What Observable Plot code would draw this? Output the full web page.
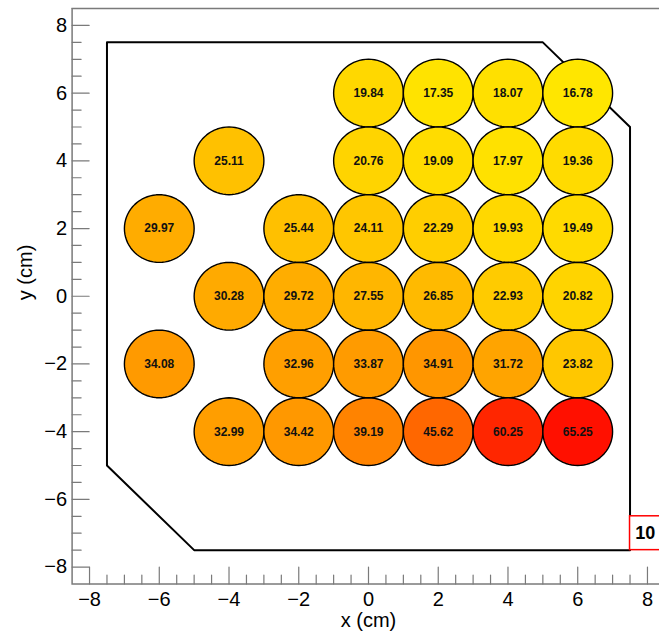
<!DOCTYPE html>
<html>
<head>
<meta charset="utf-8">
<script src="https://cdn.jsdelivr.net/npm/d3@7"></script>
<script src="https://cdn.jsdelivr.net/npm/@observablehq/plot@0.6"></script>
<style>
  html, body { margin: 0; padding: 0; background: #fff; overflow: hidden; }
  #chart svg { overflow: hidden; }
</style>
</head>
<body>
<div id="chart"></div>
<script>
// Cell centres (cm) and measured values
const cellX = [0, 2, 4, 6,
               -4, 0, 2, 4, 6,
               -6, -2, 0, 2, 4, 6,
               -4, -2, 0, 2, 4, 6,
               -6, -2, 0, 2, 4, 6,
               -4, -2, 0, 2, 4, 6];
const cellY = [6, 6, 6, 6,
               4, 4, 4, 4, 4,
               2, 2, 2, 2, 2, 2,
               0, 0, 0, 0, 0, 0,
               -2, -2, -2, -2, -2, -2,
               -4, -4, -4, -4, -4, -4];
const cellValue = [19.84, 17.35, 18.07, 16.78,
                   25.11, 20.76, 19.09, 17.97, 19.36,
                   29.97, 25.44, 24.11, 22.29, 19.93, 19.49,
                   30.28, 29.72, 27.55, 26.85, 22.93, 20.82,
                   34.08, 32.96, 33.87, 34.91, 31.72, 23.82,
                   32.99, 34.42, 39.19, 45.62, 60.25, 65.25];
const cellRadius = 1; // cm

// Detector outline vertices (cm)
const outlineX = [-7.5, 5, 7.5, 7.5, -5, -7.5, -7.5];
const outlineY = [7.5, 7.5, 5, -7.5, -7.5, -5, 7.5];

// Boxed label in the lower right corner
const boxText = ["10"];
const boxX1 = [7.5], boxX2 = [9.5], boxY1 = [-7.5], boxY2 = [-6.5];
const boxTextX = [7.65], boxTextY = [-7.0];

// Axis ticks
const majorTicks = [-8, -6, -4, -2, 0, 2, 4, 6, 8];
const minorTicks = d3.range(-8, 8.51, 0.5).filter(v => v % 2 !== 0);

const cells = cellX.map((x, i) => ({id: i, x, y: cellY[i], value: cellValue[i]}));

// Each cell outline as a closed polygon of radius cellRadius around its centre
const segs = 72;
const cellOutline = cells.flatMap(c =>
  d3.range(segs).map(k => {
    const a = (2 * Math.PI * k) / segs;
    return {id: c.id, value: c.value, x: c.x + cellRadius * Math.cos(a), y: c.y + cellRadius * Math.sin(a)};
  })
);

const outline = outlineX.map((x, i) => ({x, y: outlineY[i]}));
const boxes = boxText.map((t, i) => ({t, x1: boxX1[i], x2: boxX2[i], y1: boxY1[i], y2: boxY2[i], tx: boxTextX[i], ty: boxTextY[i]}));

const fmt = v => (v < 0 ? "\u2212" : "") + Math.abs(v);
const font = "Liberation Sans, Arial, Helvetica, sans-serif";
const axisGray = "#7a7a7a";

// plain straight tick stroke for the vector mark
const tickShape = {
  draw(context, l) {
    context.moveTo(0, 0);
    context.lineTo(0, -l);
  }
};

const plot = Plot.plot({
  width: 659,
  height: 635,
  marginLeft: 71.6,
  marginRight: -5.4,
  marginTop: 8,
  marginBottom: 51.5,
  style: {fontFamily: font, background: "#fff"},
  x: {domain: [-8.5, 8.5], axis: null},
  y: {domain: [-8.5, 8.5], axis: null},
  color: {type: "linear", range: ["#ffe600", "#ff1000"], interpolate: "rgb"},
  marks: [
    Plot.line(outline, {x: "x", y: "y", stroke: "#000", strokeWidth: 2}),
    Plot.line(cellOutline, {x: "x", y: "y", z: "id", fill: "value", stroke: "#000", strokeWidth: 1.4, curve: "linear-closed"}),
    Plot.text(cells, {x: "x", y: "y", text: d => d.value.toFixed(2), fontSize: 12, fontWeight: "bold", fill: "#111"}),
    Plot.rect(boxes, {x1: "x1", x2: "x2", y1: "y1", y2: "y2", fill: "#fff", stroke: "#ff0000", strokeWidth: 1.5}),
    Plot.text(boxes, {x: "tx", y: "ty", text: "t", textAnchor: "start", fontSize: 18, fontWeight: "bold", fill: "#000"}),
    // inward ticks
    Plot.vector(majorTicks, {x: d => d, frameAnchor: "bottom", length: 17, anchor: "start", shape: tickShape, stroke: axisGray, strokeWidth: 1.2}),
    Plot.vector(minorTicks, {x: d => d, frameAnchor: "bottom", length: 9, anchor: "start", shape: tickShape, stroke: axisGray, strokeWidth: 1.2}),
    Plot.vector(majorTicks, {y: d => d, frameAnchor: "left", rotate: 90, length: 17, anchor: "start", shape: tickShape, stroke: axisGray, strokeWidth: 1.2}),
    Plot.vector(minorTicks, {y: d => d, frameAnchor: "left", rotate: 90, length: 9, anchor: "start", shape: tickShape, stroke: axisGray, strokeWidth: 1.2}),
    Plot.frame({stroke: axisGray, strokeWidth: 1.5}),
    // tick labels
    Plot.text(majorTicks, {x: d => d, frameAnchor: "bottom", dy: 16, lineAnchor: "middle", text: fmt, fontSize: 20, fill: "#000"}),
    Plot.text(majorTicks, {y: d => d, frameAnchor: "left", dx: -5, textAnchor: "end", lineAnchor: "middle", text: fmt, fontSize: 20, fill: "#000"}),
    // axis titles
    Plot.text(["x (cm)"], {frameAnchor: "bottom", dy: 37, lineAnchor: "middle", fontSize: 20, fill: "#000"}),
    Plot.text(["y (cm)"], {frameAnchor: "left", dx: -47, dy: 4, rotate: -90, lineAnchor: "middle", fontSize: 20, fill: "#000"})
  ]
});

document.getElementById("chart").appendChild(plot);
</script>
</body>
</html>
